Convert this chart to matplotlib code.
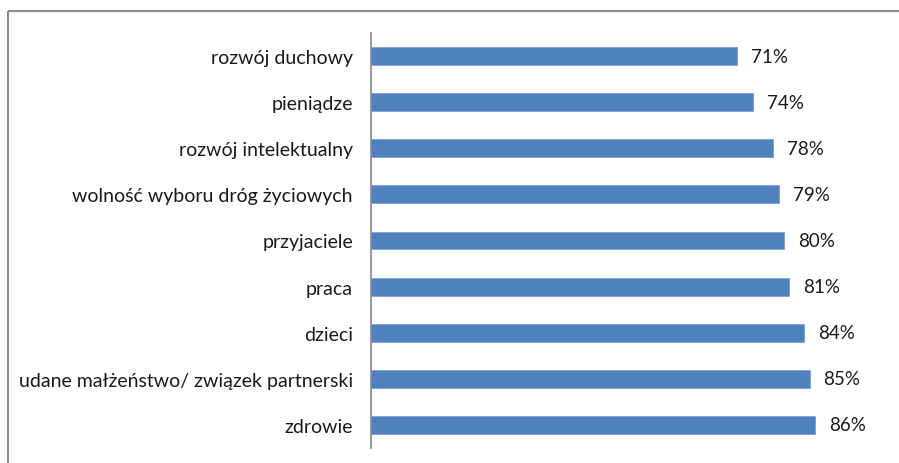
import matplotlib
matplotlib.use("Agg")
import matplotlib.pyplot as plt
from matplotlib.lines import Line2D

categories = [
    "rozwój duchowy",
    "pieniądze",
    "rozwój intelektualny",
    "wolność wyboru dróg życiowych",
    "przyjaciele",
    "praca",
    "dzieci",
    "udane małżeństwo/ związek partnerski",
    "zdrowie",
]
values = [71, 74, 78, 79, 80, 81, 84, 85, 86]

plt.rcParams["font.family"] = ["Lato", "DejaVu Sans"]

W, H = 899, 464
fig = plt.figure(figsize=(W / 100, H / 100), dpi=100)

# outer chart frame (only top and left edges fall inside the image)
fx, fy = 7.5 / W, 1 - 11.5 / H
fig.add_artist(Line2D([fx, 1.05], [fy, fy], transform=fig.transFigure,
                      color="#8c8c8c", linewidth=1.5, solid_capstyle="butt"))
fig.add_artist(Line2D([fx, fx], [-0.05, fy], transform=fig.transFigure,
                      color="#8c8c8c", linewidth=1.5, solid_capstyle="butt"))

left, right = 371 / W, 887 / W
top, bottom = 1 - 34 / H, 1 - 449 / H
ax = fig.add_axes([left, bottom, right - left, top - bottom])

y = list(range(len(categories)))
ax.barh(y, values, height=0.39, color="#4f81bd", edgecolor="#7ea1cf", linewidth=0.6)
for yi, v in zip(y, values):
    ax.text(v + 2.7, yi, f"{v}%", va="center", ha="left", fontsize=13.5, color="#1a1a1a")

ax.set_xlim(0, 100)
ax.set_ylim(len(categories) - 0.5, -0.5)
ax.set_yticks(y)
ax.set_yticklabels(categories, fontsize=14, color="#1a1a1a")
ax.tick_params(axis="y", length=0, pad=13)
ax.set_xticks([])
for s in ["top", "right", "bottom"]:
    ax.spines[s].set_visible(False)
ax.spines["left"].set_color("#868686")
ax.spines["left"].set_linewidth(1.2)

fig.savefig("out.png", dpi=100)
